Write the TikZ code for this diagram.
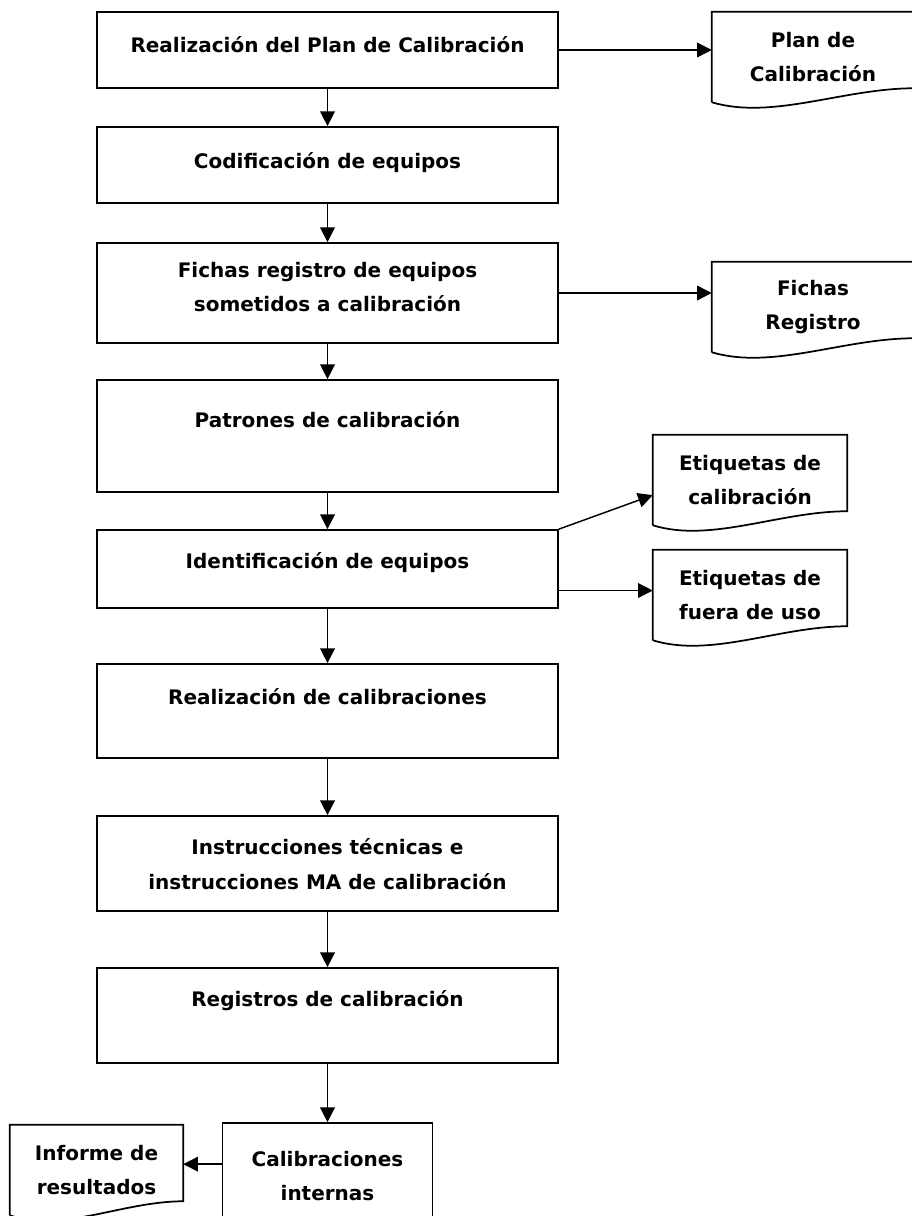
\documentclass[tikz,border=0pt]{standalone}
\usepackage{fontspec}
\setmainfont{DejaVu Sans}
\usetikzlibrary{arrows.meta,calc}
\newcommand\docpath[1]{%
  \draw[docline] (#1.south west) -- (#1.north west) -- (#1.north east) -- ($(#1.south east)+(0,-14)$)
    .. controls ($(#1.south west)!0.65!(#1.south east)+(0,-14)$) and ($(#1.south west)!0.3!(#1.south east)+(0,18)$) .. (#1.south west);}
\begin{document}
\begin{tikzpicture}[x=0.75pt,y=-0.75pt,
  mainbox/.style={draw, line width=1.3pt, minimum width=345.75pt, inner sep=0pt},
  txt/.style={font=\bfseries\fontsize{15}{26}\selectfont, align=center, inner sep=0pt},
  docbox/.style={txt, minimum height=67.5pt},
  docline/.style={line width=1.3pt},
  arr/.style={-{Triangle[length=11pt,width=11pt]}, line width=1.1pt}]
\useasboundingbox (0,0) rectangle (912,1216);
% main boxes
\node[mainbox, minimum height=57pt] (b1) at (327.5,50) {};
\node[mainbox, minimum height=57pt] (b2) at (327.5,165) {};
\node[mainbox, minimum height=75pt] (b3) at (327.5,293) {};
\node[mainbox, minimum height=84pt] (b4) at (327.5,436) {};
\node[mainbox, minimum height=58.5pt] (b5) at (327.5,569) {};
\node[mainbox, minimum height=70.5pt] (b6) at (327.5,711) {};
\node[mainbox, minimum height=71.25pt] (b7) at (327.5,863.5) {};
\node[mainbox, minimum height=71.25pt] (b8) at (327.5,1015.5) {};
\node[mainbox, minimum width=157.5pt, minimum height=72.75pt] (b9) at (327.5,1171.5) {};
% texts of main boxes
\node[txt] (t1) at (327.5,45) {Realización del Plan de Calibración};
\node[txt] (t2) at (327.5,163) {Codificación de equipos};
\node[txt] (t3) at (327.5,287) {Fichas registro de equipos\\sometidos a calibración};
\node[txt] (t4) at (327.5,420) {Patrones de calibración};
\node[txt] (t5) at (327.5,563) {Identificación de equipos};
\node[txt] (t6) at (327.5,697) {Realización de calibraciones};
\node[txt] (t7) at (327.5,864) {Instrucciones técnicas e\\instrucciones MA de calibración};
\node[txt] (t8) at (327.5,1001) {Registros de calibración};
\node[txt] (t9) at (327.5,1176) {Calibraciones\\internas};
% document boxes
\node[docbox, minimum width=151.5pt] (plan) at (813,57) {Plan de\\Calibración};
\node[docbox, minimum width=151.5pt] (fichas) at (813,307) {Fichas\\Registro};
\node[docbox, minimum width=145.5pt] (ecal) at (750,480) {Etiquetas de\\calibración};
\node[docbox, minimum width=145.5pt] (efue) at (750,595) {Etiquetas de\\fuera de uso};
\node[docbox, minimum width=129.75pt] (inf) at (96.5,1170) {Informe de\\resultados};
\docpath{plan}
\docpath{fichas}
\docpath{ecal}
\docpath{efue}
\docpath{inf}
% vertical arrows
\draw[arr] (b1.south) -- (b2.north);
\draw[arr] (b2.south) -- (b3.north);
\draw[arr] (b3.south) -- (b4.north);
\draw[arr] (b4.south) -- (b5.north);
\draw[arr] (b5.south) -- (b6.north);
\draw[arr] (b6.south) -- (b7.north);
\draw[arr] (b7.south) -- (b8.north);
\draw[arr] (b8.south) -- (b9.north);
% side arrows
\draw[arr] (b1.east) -- (b1.east -| plan.west);
\draw[arr] (b3.east) -- (b3.east -| fichas.west);
\draw[arr] (b5.north east) -- ($(ecal.south west)!0.333!(ecal.north west)$);
\coordinate (c5) at ($(b5.south east)!0.23!(b5.north east)$);
\draw[arr] (c5) -- (c5 -| efue.west);
\coordinate (c9) at ($(b9.north west)+(0,42)$);
\draw[arr] (c9) -- (c9 -| inf.east);
\end{tikzpicture}
\end{document}
